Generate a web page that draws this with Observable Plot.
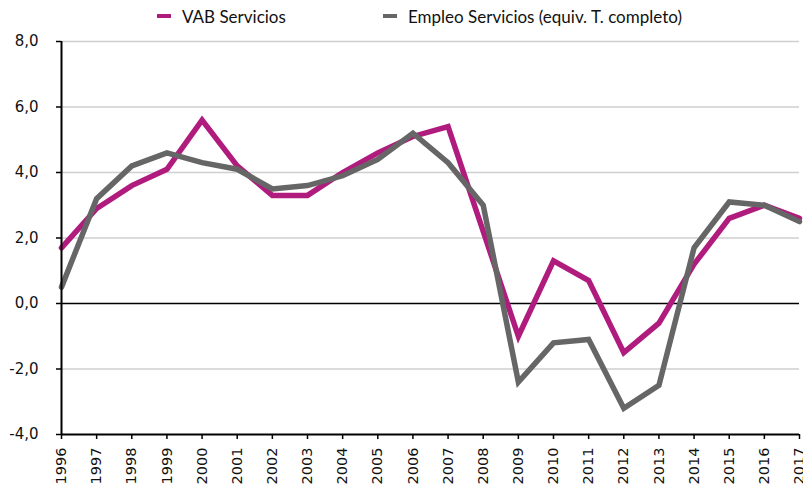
<!DOCTYPE html>
<html><head><meta charset="utf-8">
<script src="https://cdn.jsdelivr.net/npm/d3@7"></script>
<script src="https://cdn.jsdelivr.net/npm/@observablehq/plot@0.6"></script>
<style>
body{margin:0;background:#fff;font-family:Lato,"Open Sans",sans-serif;}
#legend{height:30px;position:relative;font-size:17px;color:#111;}
.item{position:absolute;top:5px;height:22px;display:flex;align-items:center;}
.sw{width:14px;height:4px;margin-right:11px;}
</style></head><body>
<div id="legend"></div>
<div id="chart"></div>
<script>
const years = d3.range(1996, 2018);
const vab = [1.7,2.9,3.6,4.1,5.6,4.2,3.3,3.3,4.0,4.6,5.1,5.4,2.2,-1.0,1.3,0.7,-1.5,-0.6,1.2,2.6,3.0,2.6];
const empleo = [0.5,3.2,4.2,4.6,4.3,4.1,3.5,3.6,3.9,4.4,5.2,4.3,3.0,-2.4,-1.2,-1.1,-3.2,-2.5,1.7,3.1,3.0,2.5];
const seriesNames = ["VAB Servicios", "Empleo Servicios (equiv. T. completo)"];
const colors = ["#B01C7E", "#666666"];
const yTicks = [-4,-2,0,2,4,6,8];

const data = [];
years.forEach((y,i)=>{
  data.push({year:y, value:vab[i], s:seriesNames[0]});
  data.push({year:y, value:empleo[i], s:seriesNames[1]});
});

const leg = document.getElementById("legend");
const legX = [157, 383];
seriesNames.forEach((n,i)=>{
  const d = document.createElement("div");
  d.className="item"; d.style.left=legX[i]+"px";
  d.innerHTML = `<span class="sw" style="background:${colors[i]}"></span><span>${n}</span>`;
  leg.appendChild(d);
});

const fmt = d => d.toFixed(1).replace(".", ",");
const axisFont = "DejaVu Sans";
const chart = Plot.plot({
  width: 803, height: 456,
  marginTop: 11, marginBottom: 52, marginLeft: 61, marginRight: 4,
  style: {fontFamily: axisFont, fontSize: "15px", color: "#111"},
  x: {domain: [1996, 2017], label: null},
  y: {domain: [-4, 8], label: null},
  color: {domain: seriesNames, range: colors},
  marks: [
    Plot.ruleY(yTicks.filter(d => d !== 0 && d !== -4), {stroke: "#cfcfcf", strokeWidth: 1.3}),
    Plot.axisY({ticks: yTicks, tickFormat: fmt, tickSize: 5, tickPadding: 18, stroke: "#000", strokeWidth: 1.5, fontSize: 15, fontFamily: axisFont}),
    Plot.axisX({ticks: years, tickFormat: d => String(d), tickSize: 5, tickRotate: -90, tickPadding: 8, stroke: "#000", strokeWidth: 1.5, fontSize: 14.5, fontFamily: axisFont}),
    Plot.ruleY([0], {stroke: "#000", strokeWidth: 1.5}),
    Plot.line(data, {x: "year", y: "value", z: "s", stroke: "s", strokeWidth: 5.5, strokeLinejoin: "miter", strokeMiterlimit: 10}),
    Plot.ruleY([-4], {stroke: "#000", strokeWidth: 2}),
    Plot.ruleX([1996], {stroke: "#000", strokeWidth: 2})
  ]
});
document.getElementById("chart").appendChild(chart);
</script>
</body></html>
